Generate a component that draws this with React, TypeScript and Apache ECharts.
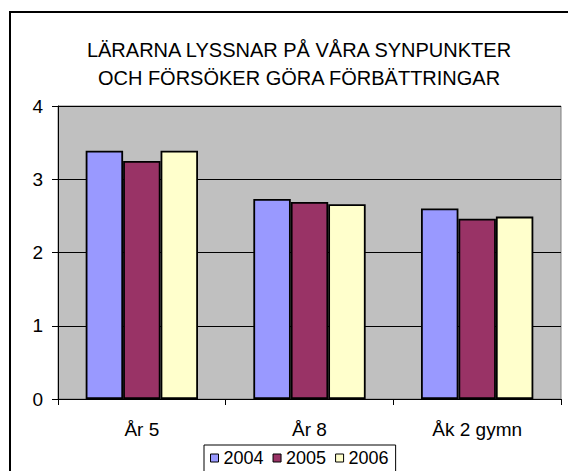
import React, { useEffect, useRef } from "react";
import * as echarts from "echarts";

const categories = ["År 5", "År 8", "Åk 2 gymn"];
const seriesNames = ["2004", "2005", "2006"];
const values2004 = [3.39, 2.73, 2.6];
const values2005 = [3.25, 2.69, 2.46];
const values2006 = [3.39, 2.66, 2.49];
const seriesColors = ["#9999FF", "#993366", "#FFFFCC"];
const titleLines = ["LÄRARNA LYSSNAR PÅ VÅRA SYNPUNKTER", "OCH FÖRSÖKER GÖRA FÖRBÄTTRINGAR"];

export default function App() {
  const ref = useRef<HTMLDivElement>(null);
  useEffect(() => {
    if (!ref.current) return;
    const chart = echarts.init(ref.current, undefined, { renderer: "svg" });
    const font = "Liberation Sans, Arial, sans-serif";
    const allValues = [values2004, values2005, values2006];
    chart.setOption({
      animation: false,
      backgroundColor: "#ffffff",
      textStyle: { fontFamily: font },
      title: {
        text: titleLines.join("\n"),
        left: 294,
        top: 31,
        textAlign: "center",
        textStyle: { fontFamily: font, fontSize: 20, fontWeight: "normal", color: "#000", lineHeight: 28 },
      },
      graphic: [
        {
          type: "polyline",
          shape: { points: [[10, 480], [10, 12], [580, 12]] },
          style: { fill: "none", stroke: "#000", lineWidth: 2 },
          z: -1,
        },
      ],
      legend: {
        data: seriesNames,
        left: 204,
        top: 445,
        padding: [4, 7, 6, 6],
        itemGap: 9,
        itemWidth: 8,
        itemHeight: 8,
        icon: "rect",
        borderColor: "#000",
        borderWidth: 1,
        backgroundColor: "#fff",
        textStyle: { fontFamily: font, fontSize: 18, color: "#000" },
        itemStyle: { borderColor: "#000", borderWidth: 1 },
      },
      grid: {
        left: 58,
        top: 106,
        width: 503,
        height: 293,
        show: true,
        backgroundColor: "#C0C0C0",
        borderColor: "#808080",
        borderWidth: 1,
      },
      xAxis: {
        type: "category",
        data: categories,
        axisLine: { lineStyle: { color: "#000", width: 1 } },
        axisTick: { show: true, length: 6, lineStyle: { color: "#000" } },
        axisLabel: { fontFamily: font, fontSize: 19, color: "#000", margin: 21 },
      },
      yAxis: {
        type: "value",
        min: 0,
        max: 4,
        interval: 1,
        axisLine: { show: true, lineStyle: { color: "#000", width: 1 } },
        axisTick: { show: true, length: 6, lineStyle: { color: "#000" } },
        axisLabel: { fontFamily: font, fontSize: 19, color: "#000", margin: 15 },
        splitLine: { show: true, lineStyle: { color: "#000", width: 1 } },
      },
      series: seriesNames.map((name, i) => ({
        name,
        type: "bar",
        data: allValues[i],
        barGap: "0%",
        barCategoryGap: "33%",
        itemStyle: { color: seriesColors[i], borderColor: "#000", borderWidth: 1.8 },
      })),
    });
    return () => chart.dispose();
  }, []);
  return <div ref={ref} style={{ width: 568, height: 471, position: "absolute", left: 0, top: 0 }} />;
}
